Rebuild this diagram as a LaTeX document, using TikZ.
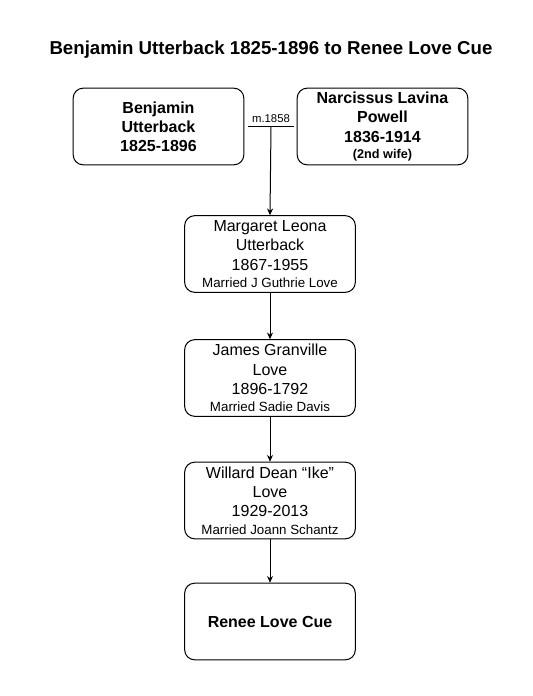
\documentclass[tikz,border=0pt]{standalone}
\usepackage{fontspec}
\setmainfont{Liberation Sans}
\usetikzlibrary{arrows.meta,calc}
\begin{document}
\begin{tikzpicture}[x=0.75pt,y=-0.75pt,
  person/.style={draw=black,line width=0.75pt,rounded corners=7.5pt,minimum width=128pt,minimum height=57.5pt,align=center,inner sep=0pt,font=\fontsize{12}{14.6}\selectfont},
  conn/.style={draw=black,line width=0.75pt},
  arr/.style={conn,-{Stealth[length=5pt,width=4.5pt]}}]
\useasboundingbox (0,0) rectangle (532,696);
\node[font=\fontsize{14}{16}\selectfont\bfseries] (title) at (271,50) {Benjamin Utterback 1825-1896 to Renee Love Cue};
\node[person,font=\fontsize{12}{14.4}\selectfont\bfseries] (ben) at (158.5,126.5) {Benjamin\\Utterback\\1825-1896};
\node[person,font=\fontsize{12}{14.6}\selectfont\bfseries] (nar) at (382.5,126.5) {Narcissus Lavina\\Powell\\1836-1914\\[-2.5pt]{\fontsize{9.5}{11}\selectfont (2nd wife)}};
\node[person] (mar) at (270,254) {Margaret Leona\\Utterback\\1867-1955\\[-1.5pt]{\fontsize{10}{11}\selectfont Married J Guthrie Love}};
\node[person] (jam) at (270,378) {James Granville\\Love\\1896-1792\\[-1.5pt]{\fontsize{10}{11}\selectfont Married Sadie Davis}};
\node[person] (wil) at (270,500.5) {Willard Dean “Ike”\\Love\\1929-2013\\[-1.5pt]{\fontsize{10}{11}\selectfont Married Joann Schantz}};
\node[person,font=\fontsize{12}{14.6}\selectfont\bfseries] (ren) at (270,621.5) {Renee Love Cue};
\coordinate (ml) at ($(ben.east)+(4,0)$);
\coordinate (mr) at ($(nar.west)+(-3,0)$);
\coordinate (m) at ($(ml)!0.5!(mr)$);
\draw[conn] (ml) -- node[above=1.5pt,font=\fontsize{8.5}{10}\selectfont,inner sep=1pt] (mlabel) {m.1858} (mr);
\draw[arr] (m) -- (mar.north);
\draw[arr] (mar.south) -- (jam.north);
\draw[arr] (jam.south) -- (wil.north);
\draw[arr] (wil.south) -- (ren.north);
\end{tikzpicture}
\end{document}
